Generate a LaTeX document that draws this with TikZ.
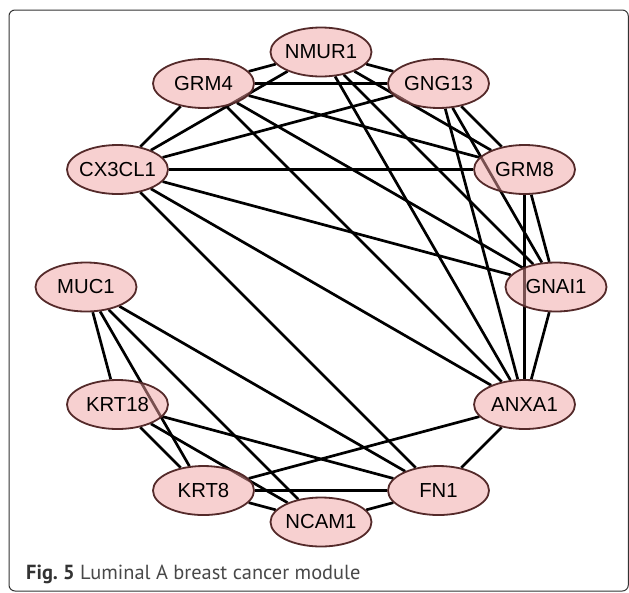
\documentclass[tikz,border=0pt]{standalone}
\usepackage{fontspec}
\setmainfont{Liberation Sans}
\newfontfamily\capfont{PT Sans}
\usetikzlibrary{shapes.geometric,backgrounds}
\definecolor{genefill}{RGB}{240,161,161}
\definecolor{geneline}{RGB}{84,42,42}
\definecolor{framegray}{RGB}{51,51,51}
\definecolor{capgray}{RGB}{72,72,72}

\begin{document}
\begin{tikzpicture}[x=1pt,y=-1pt]
		\tikzstyle{gene}=[ellipse,draw=geneline,line width=1.8pt,fill=genefill,
			fill opacity=0.5,text opacity=1,minimum width=101pt,minimum height=49pt,
			inner sep=0pt,inner xsep=-3pt,font=\fontsize{20.3}{24}\selectfont]
		\useasboundingbox (0,0) rectangle (629,592);
		\draw[framegray,line width=1pt,rounded corners=6pt] (9,10) rectangle (628.3,591);
		\begin{scope}[shift={(321,287)}]
		\node[gene] (NMUR1)  at (-90:235) {NMUR1};
		\node[gene] (GNG13)  at (-60:235) {GNG13};
		\node[gene] (GRM8)   at (-30:235) {GRM8};
		\node[gene] (GNAI1)  at (0:235)   {GNAI1};
		\node[gene] (ANXA1)  at (30:235)  {ANXA1};
		\node[gene] (FN1)    at (60:235)  {FN1};
		\node[gene] (NCAM1)  at (90:235)  {NCAM1};
		\node[gene] (KRT8)   at (120:235) {KRT8};
		\node[gene] (KRT18)  at (150:235) {KRT18};
		\node[gene] (MUC1)   at (180:235) {MUC1};
		\node[gene] (CX3CL1) at (210:235) {CX3CL1};
		\node[gene] (GRM4)   at (240:235) {GRM4};
		\end{scope}
		\node[anchor=base west,inner sep=0pt,text=capgray,
			font=\capfont\fontsize{20.4}{24}\selectfont] (caption) at (26,579)
			{{\color{black!80}\bfseries Fig.~5} Luminal A breast cancer module};
		\begin{scope}[on background layer,every edge/.append style={draw=black,line width=2.7pt}]
		\path (GRM4) edge (NMUR1) edge (GNG13) edge (CX3CL1) edge (GRM8)
				edge (GNAI1) edge (ANXA1)
			(CX3CL1) edge (NMUR1) edge (GNG13) edge (GRM8) edge (GNAI1)
				edge (ANXA1) edge (FN1)
			(NMUR1) edge (GNG13) edge (GRM8) edge (GNAI1) edge (ANXA1)
			(GNG13) edge (GRM8) edge (GNAI1) edge (ANXA1)
			(GRM8) edge (GNAI1) edge (ANXA1)
			(ANXA1) edge (GNAI1) edge (FN1) edge (KRT8)
			(MUC1) edge (KRT18) edge (KRT8) edge (NCAM1) edge (FN1)
			(KRT18) edge (KRT8) edge (NCAM1) edge (FN1)
			(KRT8) edge (NCAM1) edge (FN1)
			(NCAM1) edge (FN1);
		\end{scope}
	\end{tikzpicture}
\end{document}
